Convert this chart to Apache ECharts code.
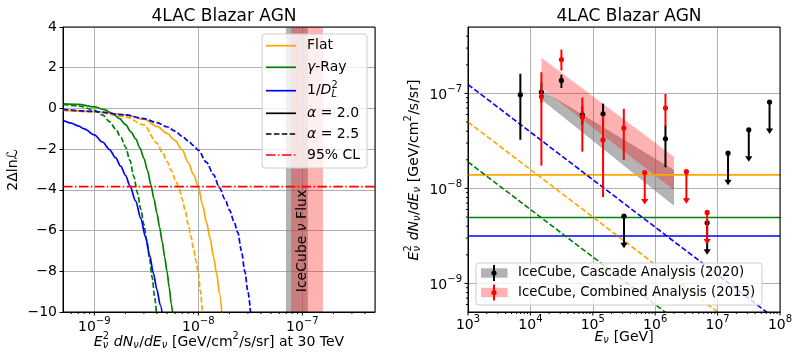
<!DOCTYPE html>
<html><head><meta charset="utf-8">
<script src="https://cdn.jsdelivr.net/npm/echarts@6/dist/echarts.min.js"></script>
<style>html,body{margin:0;padding:0;background:#fff}#c{width:801px;height:358px}</style>
</head><body><div id="c"></div>
<script>
// ---------------- LEFT PANEL DATA (2ΔlnL vs E²dN/dE at 30 TeV) ----------------
const flatA20_x = [5e-10,1e-9,2e-9,3e-9,4e-9,5e-9,6e-9,7e-9,8e-9,9e-9,1e-8,1.1e-8,1.2e-8,1.3e-8,1.4e-8,1.5e-8,1.6e-8,1.7e-8];
const flatA20_y = [-0.08,-0.15,-0.32,-0.53,-0.88,-1.22,-1.58,-2.04,-2.65,-3.25,-3.84,-4.75,-5.6,-6.4,-7.3,-8.1,-9.1,-10.3];
const flatA25_x = [5e-10,1e-9,2e-9,3e-9,4e-9,4.5e-9,5e-9,5.5e-9,6e-9,6.5e-9,7e-9,7.5e-9,8e-9,8.5e-9,9e-9,9.5e-9,1e-8,1.05e-8,1.1e-8,1.13e-8];
const flatA25_y = [-0.1,-0.17,-0.41,-0.81,-1.7,-2.15,-2.6,-3.05,-3.48,-3.9,-4.45,-5.05,-5.7,-6.3,-6.9,-7.5,-8.1,-9.0,-10.0,-10.5];
const gamA20_x = [5e-10,7e-10,1e-9,1.25e-9,1.5e-9,1.75e-9,2e-9,2.25e-9,2.5e-9,2.75e-9,3e-9,3.25e-9,3.5e-9,3.75e-9,4e-9,4.25e-9,4.5e-9,4.75e-9,5e-9,5.25e-9,5.5e-9,5.75e-9];
const gamA20_y = [0.22,0.2,0.08,-0.06,-0.25,-0.5,-0.8,-1.15,-1.5,-1.95,-2.45,-3.05,-3.75,-4.45,-5.15,-5.85,-6.55,-7.3,-8.0,-8.8,-9.6,-10.4];
const gamA25_x = [5e-10,7e-10,1e-9,1.2e-9,1.4e-9,1.6e-9,1.8e-9,2e-9,2.2e-9,2.4e-9,2.6e-9,2.8e-9,3e-9,3.2e-9,3.4e-9,3.6e-9,3.8e-9,4e-9];
const gamA25_y = [0.2,0.12,-0.08,-0.32,-0.65,-1.0,-1.42,-1.9,-2.55,-3.35,-4.15,-4.95,-5.7,-6.5,-7.4,-8.3,-9.25,-10.4];
const dlA20_x = [5e-10,6e-10,7e-10,8e-10,1e-9,1.2e-9,1.4e-9,1.6e-9,1.8e-9,2e-9,2.2e-9,2.5e-9,2.8e-9,3.1e-9,3.4e-9,3.7e-9,4e-9,4.3e-9,4.6e-9];
const dlA20_y = [-0.58,-0.72,-0.86,-1.0,-1.3,-1.65,-2.02,-2.42,-2.85,-3.3,-3.8,-4.55,-5.4,-6.3,-7.2,-8.1,-8.9,-9.65,-10.4];
const dlA25_x = [5e-10,1e-9,2e-9,3e-9,4e-9,5e-9,6e-9,7e-9,8e-9,9e-9,1e-8,1.2e-8,1.4e-8,1.6e-8,1.8e-8,2e-8,2.2e-8,2.4e-8,2.6e-8,2.8e-8,3e-8,3.2e-8];
const dlA25_y = [-0.05,-0.15,-0.32,-0.5,-0.7,-0.9,-1.12,-1.37,-1.6,-1.83,-2.05,-2.65,-3.25,-3.9,-4.45,-5.0,-5.55,-6.1,-7.0,-8.0,-9.0,-10.2];
const clLevel = -3.84;
const icecubeCascadeFlux30 = [6.97e-8, 1.13e-7];
const icecubeCombinedFlux30 = [7.8e-8, 1.58e-7];
const leftXRange = [5e-10, 5e-7];
const leftYRange = [-10, 4];

// ---------------- RIGHT PANEL DATA (E²dN/dE vs E) ----------------
const cascadeE   = [6.9e3, 1.5e4, 3.14e4, 6.8e4, 1.46e5, 1.46e6];
const cascadeVal = [9.7e-8, 1.035e-7, 1.37e-7, 5.96e-8, 6.1e-8, 3.33e-8];
const cascadeLo  = [3.25e-8, 8.0e-8, 1.14e-7, 4.7e-8, 4.5e-8, 1.67e-8];
const cascadeHi  = [1.61e-7, 1.3e-7, 1.57e-7, 7.3e-8, 7.8e-8, 4.6e-8];
const cascadeUlE = [3.16e5, 6.8e6, 1.47e7, 3.16e7, 6.8e7];
const cascadeUl  = [5.1e-9, 4.35e-9, 2.35e-8, 4.14e-8, 8.1e-8];
const combinedE   = [1.5e4, 3.14e4, 6.8e4, 1.46e5, 3.14e5, 1.46e6];
const combinedVal = [9.3e-8, 2.27e-7, 5.63e-8, 3.24e-8, 4.32e-8, 7.0e-8];
const combinedLo  = [1.74e-8, 1.74e-7, 2.44e-8, 8.1e-9, 1.99e-8, 4.5e-8];
const combinedHi  = [1.67e-7, 2.89e-7, 9.07e-8, 5.8e-8, 6.9e-8, 9.86e-8];
const combinedUlE = [6.8e5, 3.16e6, 6.8e6];
const combinedUl  = [1.47e-8, 1.5e-8, 5.58e-9];
const bandE = [1.5e4, 2.0e6];
const cascadeBandLo  = [8.6e-8, 6.56e-9];
const cascadeBandHi  = [1.09e-7, 1.56e-8];
const combinedBandLo = [1.14e-7, 9.6e-9];
const combinedBandHi = [2.37e-7, 2.16e-8];
const flatLevel = 1.39e-8, gammaLevel = 4.94e-9, dlLevel = 3.16e-9;
const lineE = [1e3, 1e8];
const flatSteep = [5.0e-8, 1.58e-10];
const gammaSteep = [1.9e-8, 6.0e-11];
const dlSteep = [1.24e-7, 3.9e-10];
const rightXRange = [1e3, 1e8];
const rightYRange = [5e-10, 5e-7];

// tick positions
const leftXMajor = [1e-9, 1e-8, 1e-7];
const rightXMajor = [1e3, 1e4, 1e5, 1e6, 1e7, 1e8];
const rightYMajor = [1e-9, 1e-8, 1e-7];

const ORANGE = '#FFA500', GREEN = '#008000', BLUE = '#0000FF', RED = '#FF0000';
const FF = '"DejaVu Sans", sans-serif';
const GL = {left: 63, top: 27, width: 312, height: 285};
const GR = {left: 468, top: 27, width: 312, height: 285};

function minorTicks(lo, hi) {
  const out = [];
  for (let d = Math.floor(Math.log10(lo)); d <= Math.ceil(Math.log10(hi)); d++) {
    for (let m = 2; m <= 9; m++) { const v = m * Math.pow(10, d); if (v > lo * 1.0001 && v < hi * 0.9999) out.push(v); }
  }
  return out;
}

const mctx = document.createElement('canvas').getContext('2d');
function mw(t, size, it) { mctx.font = (it ? 'italic ' : '') + size + 'px "DejaVu Sans"'; return mctx.measureText(t).width; }
function tx(t, x, y, size, it, z) {
  return {type: 'text', x: x, y: y, z: z || 101, style: {text: t, fontSize: size, fontFamily: FF, fontStyle: it ? 'italic' : 'normal', fill: '#000', align: 'left', verticalAlign: 'middle'}};
}
function mathRow(segs, size, z) {
  const ch = []; let x = 0;
  for (const s of segs) {
    if (s.k === 'n' || s.k === 'i') { ch.push(tx(s.t, x, 0, size, s.k === 'i', z)); x += mw(s.t, size, s.k === 'i'); }
    else if (s.k === 'ss') {
      const ss = size * 0.7; let w = 0;
      if (s.sup) { ch.push(tx(s.sup, x, -size * 0.4, ss, s.supI, z)); w = Math.max(w, mw(s.sup, ss, s.supI)); }
      if (s.sub) { ch.push(tx(s.sub, x, size * 0.28, ss, s.subI, z)); w = Math.max(w, mw(s.sub, ss, s.subI)); }
      x += w + 0.5;
    }
  }
  return {ch: ch, w: x};
}
function mathCentered(segs, size, cx, cy, rot) {
  const r = mathRow(segs, size, 101);
  r.ch.forEach(c => c.x -= r.w / 2);
  return {type: 'group', x: cx, y: cy, rotation: rot || 0, children: r.ch};
}
function mathLeft(segs, size, x, y) {
  const r = mathRow(segs, size, 103);
  return {type: 'group', x: x, y: y, children: r.ch};
}

function powFmt(v) {
  const e = Math.log10(v), r = Math.round(e);
  if (Math.abs(e - r) > 1e-6) return '';
  return '{b|10}{s|' + (r < 0 ? '\u2212' : '') + Math.abs(r) + '}';
}
const powRich = {b: {fontSize: 14, fontFamily: FF, color: '#000', verticalAlign: 'bottom', lineHeight: 18}, s: {fontSize: 10, fontFamily: FF, color: '#000', verticalAlign: 'top', lineHeight: 18}};

function curve(xs, ys, color, dashed) {
  return {type: 'line', xAxisIndex: 0, yAxisIndex: 0, data: xs.map((x, i) => [x, ys[i]]), symbol: 'none', smooth: 0.3, smoothMonotone: 'x', clip: true, silent: true, z: 5,
    lineStyle: {color: color, width: 1.7, type: dashed ? [5.5, 2.4] : 'solid'}};
}
function vband(range, color) {
  return {type: 'custom', xAxisIndex: 0, yAxisIndex: 0, data: [[range[0], 0, range[1]]], silent: true, z: 2, clip: true,
    renderItem: function (p, api) {
      const a = api.coord([api.value(0), 0]), b = api.coord([api.value(2), 0]);
      const cs = p.coordSys;
      return {type: 'rect', shape: {x: a[0], y: cs.y, width: b[0] - a[0], height: cs.height}, style: {fill: color}};
    }};
}
function polyBand(E, lo, hi, color) {
  return {type: 'custom', xAxisIndex: 1, yAxisIndex: 1, data: E.map((e, i) => [e, lo[i], hi[i]]), silent: true, z: 2, clip: true,
    renderItem: function (p, api) {
      if (p.dataIndex !== 0) return null;
      const pts = [];
      E.forEach((e, i) => pts.push(api.coord([e, hi[i]])));
      for (let i = E.length - 1; i >= 0; i--) pts.push(api.coord([E[i], lo[i]]));
      return {type: 'polygon', shape: {points: pts}, style: {fill: color}};
    }};
}
function errSeries(E, v, lo, hi, color, z) {
  return {type: 'custom', xAxisIndex: 1, yAxisIndex: 1, data: E.map((e, i) => [e, v[i], lo[i], hi[i]]), silent: true, z: z, clip: false,
    renderItem: function (p, api) {
      const e = api.value(0);
      const pv = api.coord([e, api.value(1)]), pl = api.coord([e, api.value(2)]), ph = api.coord([e, api.value(3)]);
      return {type: 'group', children: [
        {type: 'line', shape: {x1: pl[0], y1: pl[1], x2: ph[0], y2: ph[1]}, style: {stroke: color, lineWidth: 2}},
        {type: 'circle', shape: {cx: pv[0], cy: pv[1], r: 2.6}, style: {fill: color}}]};
    }};
}
function ulSeries(E, v, color, z) {
  return {type: 'custom', xAxisIndex: 1, yAxisIndex: 1, data: E.map((e, i) => [e, v[i]]), silent: true, z: z, clip: false,
    renderItem: function (p, api) {
      const pv = api.coord([api.value(0), api.value(1)]);
      const L = 32, x = pv[0], y = pv[1];
      return {type: 'group', children: [
        {type: 'line', shape: {x1: x, y1: y, x2: x, y2: y + L - 3}, style: {stroke: color, lineWidth: 2}},
        {type: 'polygon', shape: {points: [[x - 3.6, y + L - 5.5], [x + 3.6, y + L - 5.5], [x, y + L]]}, style: {fill: color}},
        {type: 'circle', shape: {cx: x, cy: y, r: 2.6}, style: {fill: color}}]};
    }};
}
function xTicks(xi, yi, vals, yRef, len) {
  return {type: 'custom', xAxisIndex: xi, yAxisIndex: yi, data: vals.map(v => [v, yRef]), silent: true, z: 60, clip: false,
    renderItem: function (p, api) {
      const q = api.coord([api.value(0), yRef]); const cs = p.coordSys; const yb = cs.y + cs.height;
      return {type: 'line', shape: {x1: q[0], y1: yb, x2: q[0], y2: yb + len}, style: {stroke: '#000', lineWidth: 1}};
    }};
}
function yTicks(xi, yi, vals, xRef, len) {
  return {type: 'custom', xAxisIndex: xi, yAxisIndex: yi, data: vals.map(v => [xRef, v]), silent: true, z: 60, clip: false,
    renderItem: function (p, api) {
      const q = api.coord([xRef, api.value(1)]); const cs = p.coordSys;
      return {type: 'line', shape: {x1: cs.x - len, y1: q[1], x2: cs.x, y2: q[1]}, style: {stroke: '#000', lineWidth: 1}};
    }};
}
function hline(xi, yi, xs, y, color, width, type, z) {
  return {type: 'line', xAxisIndex: xi, yAxisIndex: yi, data: xs.map(x => [x, y]), symbol: 'none', silent: true, clip: true, z: z || 4,
    lineStyle: {color: color, width: width, type: type}};
}
function seg(xi, yi, xs, ys, color, width, type) {
  return {type: 'line', xAxisIndex: xi, yAxisIndex: yi, data: xs.map((x, i) => [x, ys[i]]), symbol: 'none', silent: true, clip: true, z: 4,
    lineStyle: {color: color, width: width, type: type}};
}

const grid = '#b0b0b0';
const option = {
  animation: false,
  backgroundColor: '#fff',
  title: [
    {text: '4LAC Blazar AGN', left: GL.left + GL.width / 2, top: 3, textAlign: 'center', textStyle: {fontFamily: FF, fontSize: 17, fontWeight: 'normal', color: '#000'}},
    {text: '4LAC Blazar AGN', left: GR.left + GR.width / 2, top: 3, textAlign: 'center', textStyle: {fontFamily: FF, fontSize: 17, fontWeight: 'normal', color: '#000'}}
  ],
  grid: [
    Object.assign({containLabel: false}, GL),
    Object.assign({containLabel: false}, GR)
  ],
  xAxis: [
    {type: 'log', gridIndex: 0, min: leftXRange[0], max: leftXRange[1], logBase: 10,
      axisLine: {onZero: false, lineStyle: {color: '#000', width: 1}}, axisTick: {show: false},
      axisLabel: {formatter: powFmt, rich: powRich, margin: 4, showMinLabel: false, showMaxLabel: false},
      splitLine: {show: true, lineStyle: {color: grid, width: 1}}},
    {type: 'log', gridIndex: 1, min: rightXRange[0], max: rightXRange[1], logBase: 10,
      axisLine: {onZero: false, lineStyle: {color: '#000', width: 1}}, axisTick: {show: false},
      axisLabel: {formatter: powFmt, rich: powRich, margin: 2},
      splitLine: {show: true, lineStyle: {color: grid, width: 1}}}
  ],
  yAxis: [
    {type: 'value', gridIndex: 0, min: leftYRange[0], max: leftYRange[1], interval: 2,
      axisLine: {show: true, onZero: false, lineStyle: {color: '#000', width: 1}}, axisTick: {show: true, length: 3.5, lineStyle: {color: '#000'}},
      axisLabel: {fontSize: 14, fontFamily: FF, color: '#000', margin: 6, formatter: v => String(v).replace('-', '\u2212')},
      splitLine: {show: true, lineStyle: {color: grid, width: 1}}},
    {type: 'log', gridIndex: 1, min: rightYRange[0], max: rightYRange[1], logBase: 10,
      axisLine: {show: true, onZero: false, lineStyle: {color: '#000', width: 1}}, axisTick: {show: false},
      axisLabel: {formatter: powFmt, rich: powRich, margin: 6, showMinLabel: false, showMaxLabel: false},
      splitLine: {show: true, lineStyle: {color: grid, width: 1}}}
  ],
  series: [
    vband(icecubeCascadeFlux30, 'rgba(128,128,128,0.6)'),
    vband(icecubeCombinedFlux30, 'rgba(255,0,0,0.3)'),
    hline(0, 0, leftXRange, clLevel, RED, 1.8, [9.6, 2.4, 1.5, 2.4], 6),
    curve(flatA20_x, flatA20_y, ORANGE, false),
    curve(flatA25_x, flatA25_y, ORANGE, true),
    curve(gamA20_x, gamA20_y, GREEN, false),
    curve(gamA25_x, gamA25_y, GREEN, true),
    curve(dlA20_x, dlA20_y, BLUE, false),
    curve(dlA25_x, dlA25_y, BLUE, true),
    xTicks(0, 0, leftXMajor, 0, 3.5),
    xTicks(0, 0, minorTicks(leftXRange[0], leftXRange[1]), 0, 2),
    // right
    polyBand(bandE, cascadeBandLo, cascadeBandHi, 'rgba(128,128,128,0.6)'),
    polyBand(bandE, combinedBandLo, combinedBandHi, 'rgba(255,0,0,0.3)'),
    hline(1, 1, rightXRange, flatLevel, ORANGE, 1.8, 'solid'),
    hline(1, 1, rightXRange, gammaLevel, GREEN, 1.6, 'solid'),
    hline(1, 1, rightXRange, dlLevel, BLUE, 1.6, 'solid'),
    seg(1, 1, lineE, dlSteep, BLUE, 1.6, [5.5, 2.4]),
    seg(1, 1, lineE, flatSteep, ORANGE, 1.6, [5.5, 2.4]),
    seg(1, 1, lineE, gammaSteep, GREEN, 1.6, [5.5, 2.4]),
    errSeries(cascadeE, cascadeVal, cascadeLo, cascadeHi, '#000', 10),
    ulSeries(cascadeUlE, cascadeUl, '#000', 10),
    errSeries(combinedE, combinedVal, combinedLo, combinedHi, RED, 11),
    ulSeries(combinedUlE, combinedUl, RED, 11),
    xTicks(1, 1, rightXMajor, 1e-8, 3.5),
    xTicks(1, 1, minorTicks(rightXRange[0], rightXRange[1]), 1e-8, 2),
    yTicks(1, 1, rightYMajor, 1e5, 3.5),
    yTicks(1, 1, minorTicks(rightYRange[0], rightYRange[1]), 1e5, 2)
  ],
  graphic: []
};

const G = option.graphic;
// spines
[GL, GR].forEach(g => G.push({type: 'rect', shape: {x: g.left, y: g.top, width: g.width, height: g.height}, style: {fill: 'none', stroke: '#000', lineWidth: 1}, z: 100}));
// axis titles
G.push(mathCentered([{k: 'n', t: '2\u0394ln\u2112'}], 14, 13, 170, Math.PI / 2));
G.push(mathCentered([{k: 'i', t: 'E'}, {k: 'ss', sup: '2', sub: '\u03bd', subI: true}, {k: 'n', t: ' '}, {k: 'i', t: 'dN'}, {k: 'ss', sub: '\u03bd', subI: true},
  {k: 'n', t: '/'}, {k: 'i', t: 'dE'}, {k: 'ss', sub: '\u03bd', subI: true}, {k: 'n', t: ' [GeV/cm'}, {k: 'ss', sup: '2'}, {k: 'n', t: '/s/sr] at 30 TeV'}], 14, 219, 342, 0));
G.push(mathCentered([{k: 'i', t: 'E'}, {k: 'ss', sup: '2', sub: '\u03bd', subI: true}, {k: 'n', t: ' '}, {k: 'i', t: 'dN'}, {k: 'ss', sub: '\u03bd', subI: true},
  {k: 'n', t: '/'}, {k: 'i', t: 'dE'}, {k: 'ss', sub: '\u03bd', subI: true}, {k: 'n', t: ' [GeV/cm'}, {k: 'ss', sup: '2'}, {k: 'n', t: '/s/sr]'}], 14, 414, 170, Math.PI / 2));
G.push(mathCentered([{k: 'i', t: 'E'}, {k: 'ss', sub: '\u03bd', subI: true}, {k: 'n', t: ' [GeV]'}], 14, 624, 337, 0));
G.push(mathCentered([{k: 'n', t: 'IceCube '}, {k: 'i', t: '\u03bd'}, {k: 'n', t: ' Flux'}], 14, 302.5, 241, Math.PI / 2));

// left legend
G.push({type: 'rect', shape: {x: 262, y: 34, width: 105, height: 134, r: 3}, style: {fill: 'rgba(255,255,255,0.8)', stroke: '#cccccc', lineWidth: 1}, z: 100});
const legL = [
  {y: 45.7, c: ORANGE, d: 'solid', segs: [{k: 'n', t: 'Flat'}]},
  {y: 67.3, c: GREEN, d: 'solid', segs: [{k: 'i', t: '\u03b3'}, {k: 'n', t: '-Ray'}]},
  {y: 90.7, c: BLUE, d: 'solid', segs: [{k: 'n', t: '1/'}, {k: 'i', t: 'D'}, {k: 'ss', sup: '2', sub: 'L', subI: true}]},
  {y: 113.3, c: '#000', d: 'solid', segs: [{k: 'i', t: '\u03b1'}, {k: 'n', t: ' = 2.0'}]},
  {y: 134, c: '#000', d: [5.5, 2.4], segs: [{k: 'i', t: '\u03b1'}, {k: 'n', t: ' = 2.5'}]},
  {y: 155, c: RED, d: [9.6, 2.4, 1.5, 2.4], segs: [{k: 'n', t: '95% CL'}]}
];
legL.forEach(e => {
  G.push({type: 'line', shape: {x1: 266, y1: e.y, x2: 296, y2: e.y}, style: {stroke: e.c, lineWidth: 1.7, lineDash: e.d === 'solid' ? null : e.d}, z: 102});
  G.push(mathLeft(e.segs, 14, 307, e.y));
});
// right legend
G.push({type: 'rect', shape: {x: 476, y: 263, width: 286, height: 42, r: 3}, style: {fill: 'rgba(255,255,255,0.8)', stroke: '#cccccc', lineWidth: 1}, z: 100});
const legR = [
  {y: 273, patch: 'rgba(128,128,128,0.6)', c: '#000', t: 'IceCube, Cascade Analysis (2020)'},
  {y: 292.5, patch: 'rgba(255,0,0,0.3)', c: RED, t: 'IceCube, Combined Analysis (2015)'}
];
legR.forEach(e => {
  G.push({type: 'rect', shape: {x: 481, y: e.y - 4.7, width: 26.5, height: 9.4}, style: {fill: e.patch}, z: 101});
  G.push({type: 'line', shape: {x1: 494, y1: e.y - 8, x2: 494, y2: e.y + 8}, style: {stroke: e.c, lineWidth: 2}, z: 102});
  G.push({type: 'circle', shape: {cx: 494, cy: e.y, r: 2.6}, style: {fill: e.c}, z: 102});
  G.push(tx(e.t, 518, e.y, 13.3, false, 103));
});

const chart = echarts.init(document.getElementById('c'), null, {renderer: 'canvas'});
chart.setOption(option);
</script>
</body></html>
